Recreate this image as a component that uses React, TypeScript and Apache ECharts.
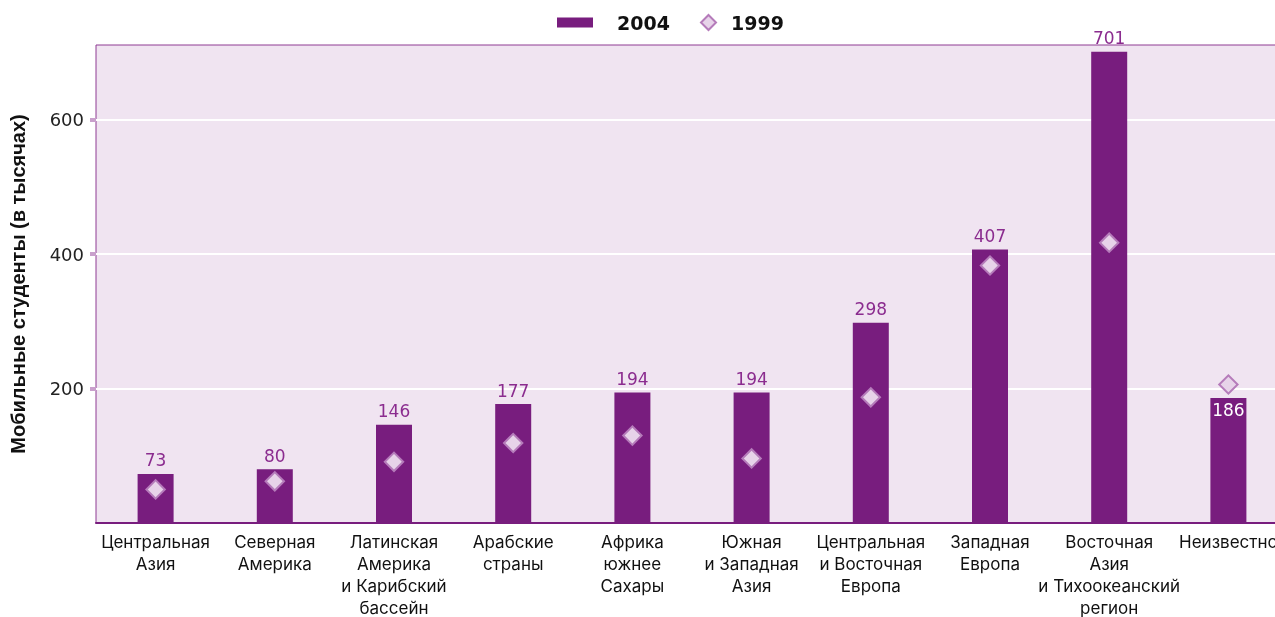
import React, { useEffect, useRef } from "react";
import * as echarts from "echarts";

const categories = [
  "Центральная\nАзия",
  "Северная\nАмерика",
  "Латинская\nАмерика\nи Карибский\nбассейн",
  "Арабские\nстраны",
  "Африка\nюжнее\nСахары",
  "Южная\nи Западная\nАзия",
  "Центральная\nи Восточная\nЕвропа",
  "Западная\nЕвропа",
  "Восточная\nАзия\nи Тихоокеанский\nрегион",
  "Неизвестно",
];
const values2004 = [73, 80, 146, 177, 194, 194, 298, 407, 701, 186];
const values1999 = [50, 62, 91, 119, 130, 96, 187, 383, 417, 206];
const yTicks = [200, 400, 600];

const BAR = "#781d7e";
const LABEL = "#8b2c8f";

export default function App() {
  const ref = useRef<HTMLDivElement>(null);
  useEffect(() => {
    const chart = echarts.init(ref.current!, undefined, { renderer: "svg" });
    chart.setOption({
      animation: false,
      legend: [
        {
          data: [{ name: "2004", icon: "rect" }],
          left: 552,
          top: 8,
          itemWidth: 36,
          itemHeight: 10,
          selectedMode: false,
          textStyle: {
            fontFamily: "DejaVu Sans",
            fontWeight: "bold",
            fontSize: 19,
            color: "#111",
            padding: [0, 0, 0, 19],
          },
        },
        {
          data: [{ name: "1999", icon: "path://M5,0L10,5L5,10L0,5Z" }],
          left: 695,
          top: 8,
          itemWidth: 15,
          itemHeight: 15,
          selectedMode: false,
          itemStyle: { color: "#e7d3e9", borderColor: "#b57bba", borderWidth: 2 },
          textStyle: {
            fontFamily: "DejaVu Sans",
            fontWeight: "bold",
            fontSize: 19,
            color: "#111",
            padding: [0, 0, 0, 10],
          },
        },
      ],
      grid: {
        left: 96,
        top: 45,
        right: -13,
        bottom: 94,
        outerBoundsMode: "none",
        containLabel: false,
        show: true,
        backgroundColor: "#f0e4f1",
        borderColor: "#8e3a93",
        borderWidth: 1,
      },
      xAxis: {
        type: "category",
        data: categories,
        axisLine: { lineStyle: { color: BAR, width: 2 } },
        axisTick: { length: 5, lineStyle: { color: "#c9a0cc", width: 5 } },
        axisLabel: {
          interval: 0,
          margin: 8,
          fontFamily: "Inter",
          fontSize: 17,
          lineHeight: 22,
          color: "#111",
        },
      },
      yAxis: {
        type: "value",
        min: 0,
        max: 711,
        interval: 200,
        name: "Мобильные студенты (в тысячах)",
        nameLocation: "middle",
        nameGap: 68,
        nameTextStyle: {
          fontFamily: "Liberation Sans",
          fontWeight: "bold",
          fontSize: 20,
          color: "#111",
        },
        axisLine: { show: false },
        axisTick: {
          show: true,
          length: 6,
          customValues: yTicks,
          lineStyle: { color: "#c9a0cc", width: 4 },
        },
        axisLabel: {
          customValues: yTicks,
          margin: 12,
          fontFamily: "DejaVu Sans",
          fontSize: 18,
          color: "#222",
        },
        splitLine: { lineStyle: { color: "#ffffff", width: 2 } },
      },
      series: [
        {
          name: "2004",
          type: "bar",
          barWidth: 36,
          data: values2004.map((v, i) =>
            i === values2004.length - 1
              ? {
                  value: v,
                  label: { position: "insideTop", color: "#ffffff", distance: 4 },
                }
              : v
          ),
          itemStyle: { color: BAR },
          label: {
            show: true,
            position: "top",
            distance: 5,
            fontFamily: "DejaVu Sans",
            fontSize: 17,
            color: LABEL,
          },
          z: 2,
        },
        {
          name: "1999",
          type: "scatter",
          symbol: "rect",
          symbolRotate: 45,
          symbolSize: 13,
          data: values1999,
          itemStyle: { color: "#e7d3e9", borderColor: "#b57bba", borderWidth: 2, opacity: 1 },
          z: 3,
        },
      ],
    });
    return () => chart.dispose();
  }, []);
  return (
    <div
      ref={ref}
      style={{ position: "fixed", left: 0, top: 0, width: 1275, height: 617 }}
    />
  );
}
